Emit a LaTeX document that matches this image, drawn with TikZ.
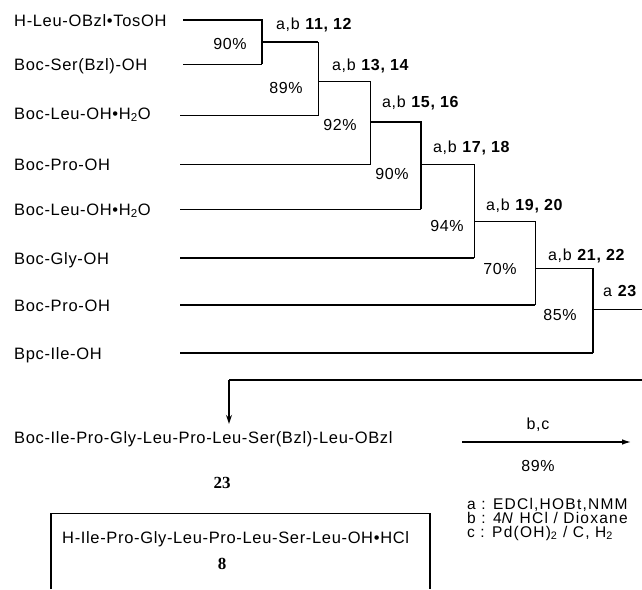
\documentclass[tikz,border=0pt]{standalone}
\usepackage{fontspec}
\setmainfont{Liberation Sans}[LetterSpace=4]
\newfontfamily\cmpdfont{Liberation Serif}
\newfontfamily\legfont{Liberation Sans}[LetterSpace=8]
\usetikzlibrary{arrows.meta}
\begin{document}
\begin{tikzpicture}[x=1pt,y=-1pt,
  lbl/.style={anchor=base west,inner sep=0pt,font=\fontsize{16.5}{19}\selectfont},
  stp/.style={anchor=base west,inner sep=0pt,font=\fontsize{16}{19}\selectfont},
  ctr/.style={anchor=base,inner sep=0pt,font=\fontsize{16}{19}\selectfont},
  leg/.style={anchor=base west,inner sep=0pt,font=\legfont\fontsize{15.5}{15}\selectfont},
  cmpd/.style={anchor=base,inner sep=0pt,font=\cmpdfont\bfseries\fontsize{17}{19}\selectfont},
  thinl/.style={line width=0.9pt},
  midl/.style={line width=1.4pt},
  thickl/.style={line width=1.9pt}]
\useasboundingbox (0,0) rectangle (642,589);
% starting materials
\node[lbl] (s1) at (14,26) {H-Leu-OBzl•TosOH};
\node[lbl] (s2) at (14,70) {Boc-Ser(Bzl)-OH};
\node[lbl] (s3) at (14,119) {Boc-Leu-OH•H\textsubscript{2}O};
\node[lbl] (s4) at (14,170) {Boc-Pro-OH};
\node[lbl] (s5) at (14,215) {Boc-Leu-OH•H\textsubscript{2}O};
\node[lbl] (s6) at (14,264) {Boc-Gly-OH};
\node[lbl] (s7) at (14,311) {Boc-Pro-OH};
\node[lbl] (s8) at (14,359) {Bpc-Ile-OH};
% line starts
\coordinate (a1) at (183,20);
\coordinate (a2) at (183,64);
\coordinate (a3) at (180,115);
\coordinate (a4) at (180,164);
\coordinate (a5) at (180,209);
\coordinate (a6) at (180,258);
\coordinate (a7) at (180,305);
\coordinate (a8) at (180,353);
% corners and junctions
\coordinate (p1) at (262,20);  \coordinate (q1) at (262,64);
\coordinate (m1) at (262,42);  \coordinate (n1) at (318,42);
\coordinate (q2) at (318,115);
\coordinate (m2) at (318,81);  \coordinate (n2) at (370,81);
\coordinate (q3) at (370,164);
\coordinate (m3) at (370,122); \coordinate (n3) at (421,122);
\coordinate (q4) at (421,209);
\coordinate (m4) at (421,164); \coordinate (n4) at (474,164);
\coordinate (q5) at (474,258);
\coordinate (m5) at (474,221); \coordinate (n5) at (535,221);
\coordinate (q6) at (535,305);
\coordinate (m6) at (535,268); \coordinate (n6) at (593,268);
\coordinate (q7) at (593,353);
\coordinate (m7) at (593,309); \coordinate (e7) at (642,309);
\coordinate (r1) at (642,380); \coordinate (r2) at (229,380);
% tree
\draw[thickl] (a1) -- (p1) -- (q1);
\draw[thinl] (a2) -- (q1);
\draw[thickl] (m1) -- (n1);
\draw[thinl] (n1) -- (q2) -- (a3);
\draw[thinl] (m2) -- (n2) -- (q3) -- (a4);
\draw[thickl] (m3) -- (n3) -- (q4);
\draw[thinl] (q4) -- (a5);
\draw[thinl] (m4) -- (n4) -- (q5);
\draw[thickl] (q5) -- (a6);
\draw[thinl] (m5) -- (n5) -- (q6);
\draw[midl] (q6) -- (a7);
\draw[thinl] (m6) -- (n6);
\draw[thickl] (n6) -- (q7);
\draw[midl] (q7) -- (a8);
\draw[thinl] (m7) -- (e7);
% step labels
\node[stp] (t1) at (276,29) {a,b \textbf{11, 12}};
\node[stp] (t2) at (332,70) {a,b \textbf{13, 14}};
\node[stp] (t3) at (382,107) {a,b \textbf{15, 16}};
\node[stp] (t4) at (433,152) {a,b \textbf{17, 18}};
\node[stp] (t5) at (486,210) {a,b \textbf{19, 20}};
\node[stp] (t6) at (548,260) {a,b \textbf{21, 22}};
\node[stp] (t7) at (603,296) {a \textbf{23}};
% yields
\node[ctr] (y1) at (230,49) {90\%};
\node[ctr] (y2) at (286,93) {89\%};
\node[ctr] (y3) at (340,130) {92\%};
\node[ctr] (y4) at (392,179) {90\%};
\node[ctr] (y5) at (447,231) {94\%};
\node[ctr] (y6) at (500,274) {70\%};
\node[ctr] (y7) at (560,320) {85\%};
% product 23
\node[lbl] (prod) at (14,443) {Boc-Ile-Pro-Gly-Leu-Pro-Leu-Ser(Bzl)-Leu-OBzl};
\node[cmpd] (c23) at (222,488) {23};
\draw[midl] (r1) -- (r2);
\draw[thickl,-{Stealth[length=9pt,width=6pt]}] (r2) -- ([yshift=7pt]r2 |- prod.north);
% deprotection arrow
\coordinate (b1) at (462,442); \coordinate (b2) at (632,442);
\draw[thickl,-{Latex[length=10pt,width=5.5pt]}] (b1) -- (b2);
\node[ctr] (bc) at (538,429) {b,c};
\node[ctr] (y8) at (538,471) {89\%};
% legend
\node[leg] (la) at (467,509) {a : EDCl,HOBt,NMM};
\node[leg] (lb) at (467,523) {b : 4\textit{N} HCl / Dioxane};
\node[leg] (lc) at (467,537) {c : Pd(OH)\textsubscript{2} / C, H\textsubscript{2}};
% final product box
\coordinate (bx1) at (51,589); \coordinate (bx2) at (51,513);
\coordinate (bx3) at (430,513); \coordinate (bx4) at (430,589);
\draw[midl] (bx1) -- (bx2);
\draw[thinl] (bx2) -- (bx3);
\draw[line width=2.6pt] (bx3) -- (bx4);
\node[lbl] (fin) at (62,543) {H-Ile-Pro-Gly-Leu-Pro-Leu-Ser-Leu-OH•HCl};
\node[cmpd] (c8) at (222,569) {8};
\end{tikzpicture}
\end{document}
